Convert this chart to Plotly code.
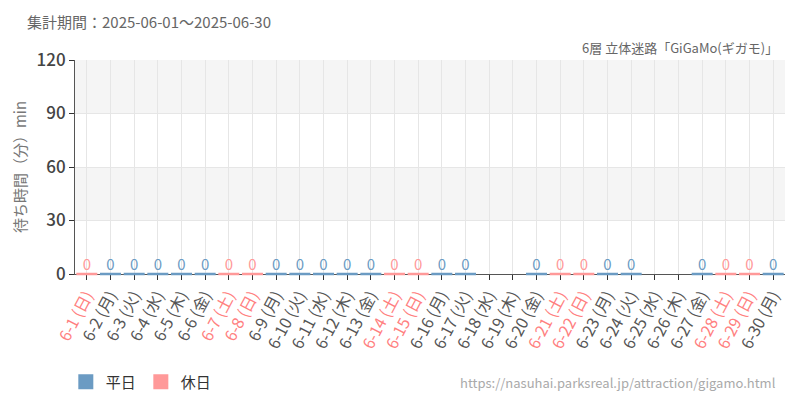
import plotly.graph_objects as go

days = [f"6-{d}" for d in range(1, 31)]
weekdays = ["日", "月", "火", "水", "木", "金", "土"] * 5
weekdays = weekdays[:30]
holiday = [w in ("土", "日") for w in weekdays]
# wait-time values (None = no data)
values = [0, 0, 0, 0, 0, 0, 0, 0, 0, 0, 0, 0, 0, 0, 0, 0, 0, None, None, 0,
          0, 0, 0, 0, None, None, 0, 0, 0, 0]
y_ticks = [0, 30, 60, 90, 120]

WEEK_C = "#6b9bc3"
HOL_C = "#ff9999"
HOL_TXT = "#ff8080"
TXT = "#555555"
FONT = "Noto Sans CJK JP"

cats = days
ticktext = [
    f"<span style='color:{HOL_TXT if h else TXT}'>{d} ({w})</span>"
    for d, w, h in zip(days, weekdays, holiday)
]

fig = go.Figure()

for name, color, flag in [("平日", WEEK_C, False), ("休日", HOL_C, True)]:
    xs = [c for c, h, v in zip(cats, holiday, values) if h == flag and v is not None]
    ys = [v for h, v in zip(holiday, values) if h == flag and v is not None]
    # bars (zero-height bars are invisible in plotly, so draw a baseline marker too)
    fig.add_trace(go.Bar(x=xs, y=ys, name=name, marker_color=color,
                         width=0.8, showlegend=False, hoverinfo="skip"))
    fig.add_trace(go.Scatter(
        x=xs, y=ys, mode="markers", showlegend=False, hoverinfo="skip",
        marker=dict(symbol="line-ew-open", size=15, color=color,
                    line=dict(color=color, width=2.5)),
        cliponaxis=False,
    ))
    fig.add_trace(go.Scatter(
        x=xs, y=ys, mode="text", showlegend=False, hoverinfo="skip",
        text=[str(v) for v in ys], textposition="top center",
        textfont=dict(color=color, size=15, family=FONT), cliponaxis=False,
    ))
    # legend entry
    fig.add_trace(go.Scatter(
        x=[None], y=[None], mode="markers", name=name,
        marker=dict(symbol="square", size=15, color=color),
    ))

# alternating background bands
for i in range(len(y_ticks) - 1):
    if i % 2 == 1:
        fig.add_shape(type="rect", xref="paper", yref="y", x0=0, x1=1,
                      y0=y_ticks[i], y1=y_ticks[i + 1],
                      fillcolor="#f5f5f5", line_width=0, layer="below")

fig.update_layout(
    width=792, height=392,
    margin=dict(l=62, r=15, t=52, b=126),
    paper_bgcolor="white", plot_bgcolor="white",
    font=dict(family=FONT, color=TXT),
    barmode="overlay",
    showlegend=True,
    legend=dict(orientation="h", xref="container", yref="container",
                x=0.073, y=0.046, xanchor="left", yanchor="middle",
                font=dict(size=15, color="#333"), itemsizing="trace",
                itemwidth=30, tracegroupgap=0),
    annotations=[
        dict(text="集計期間：2025-06-01～2025-06-30", xref="paper", yref="paper",
             x=-0.0699, y=1.1776, xanchor="left", yanchor="middle", showarrow=False,
             font=dict(size=15, color="#666")),
        dict(text="6層 立体迷路「GiGaMo(ギガモ)」", xref="paper", yref="paper",
             x=0.993, y=1.0607, xanchor="right", yanchor="middle", showarrow=False,
             font=dict(size=13, color="#666")),
        dict(text="https://nasuhai.parksreal.jp/attraction/gigamo.html",
             xref="paper", yref="paper", x=0.990, y=-0.509, xanchor="right",
             yanchor="middle", showarrow=False, font=dict(size=13, color="#aaa")),
    ],
)

fig.update_xaxes(
    type="category", categoryorder="array", categoryarray=cats,
    tickmode="array", tickvals=cats, ticktext=ticktext,
    tickangle=-62, tickfont=dict(size=16),
    showgrid=True, gridcolor="#e6e6e6",
    showline=True, linecolor="#555", linewidth=1,
    ticks="outside", ticklen=5, tickcolor="#333",
    range=[-0.5, 29.5], layer="below traces",
)
fig.update_yaxes(
    range=[0, 120], tickvals=y_ticks,
    tickfont=dict(size=17, color="#444", weight=500),
    showgrid=True, gridcolor="#e6e6e6", zeroline=False,
    showline=True, linecolor="#555", linewidth=1,
    ticks="outside", ticklen=5, tickcolor="#333",
    title=dict(text="待ち時間（分）min", font=dict(size=15, color="#777"), standoff=6),
)

fig.write_html("out.html")
